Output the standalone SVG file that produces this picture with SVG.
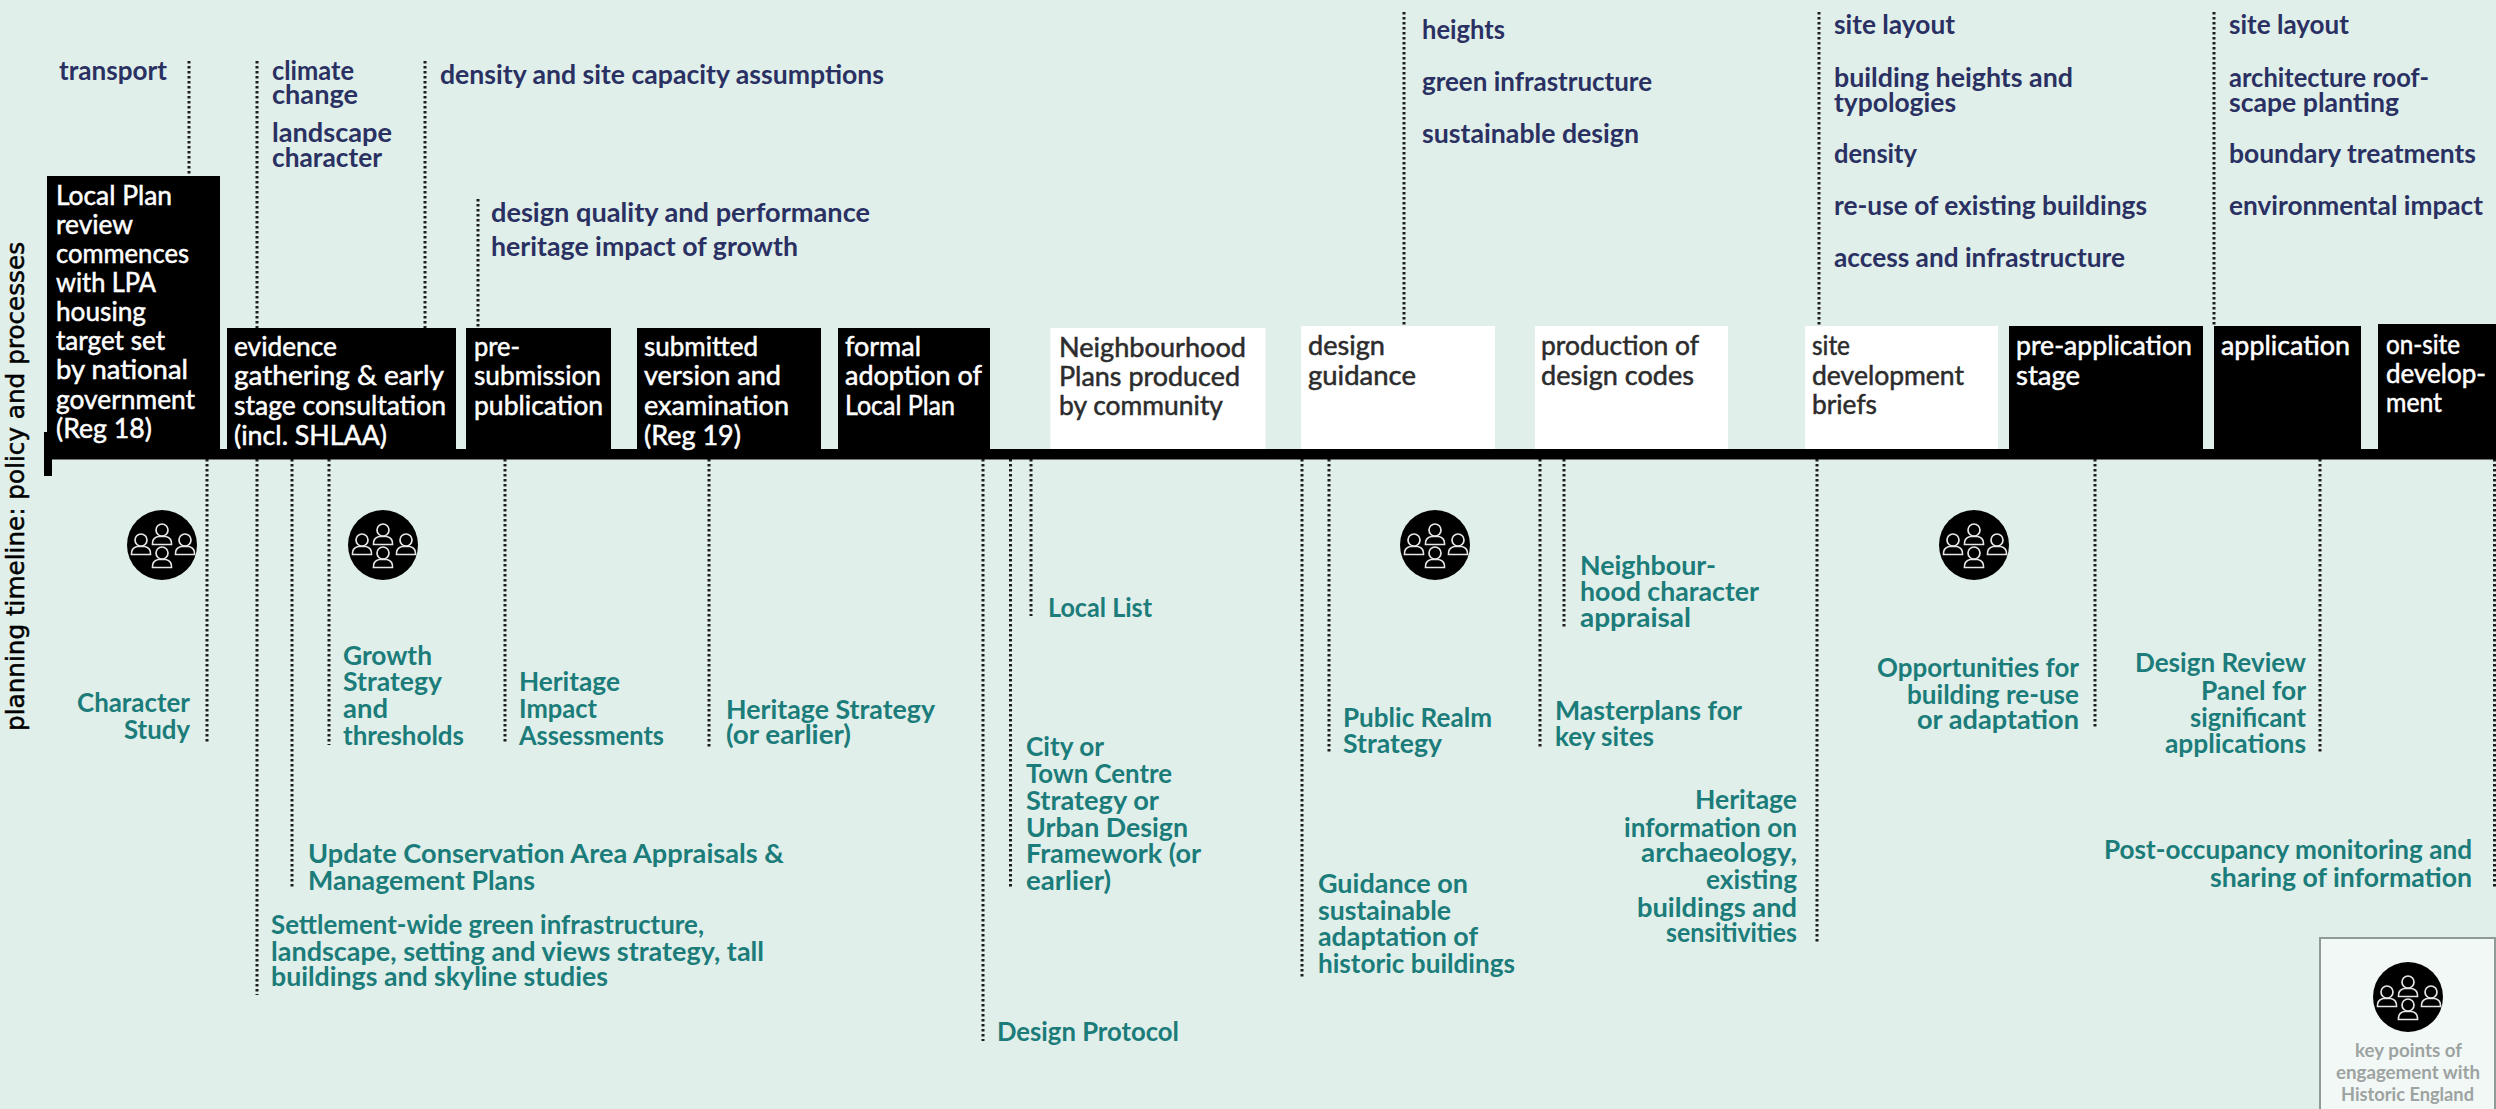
<svg xmlns="http://www.w3.org/2000/svg" width="2496" height="1109" viewBox="0 0 2496 1109">
<style>
text{font-family:"Lato","Liberation Sans",sans-serif;font-size:26px;font-weight:700;white-space:pre}
.n,.t,.w,.d{transform:translateY(1.5px)}
.n{fill:#2a3162}
.t{fill:#1b7c7a}
.w{fill:#fff;font-weight:400;stroke:#fff;stroke-width:.5}
.d{fill:#2c2c2c;font-weight:400;stroke:#2c2c2c;stroke-width:.5}
.g{fill:#9da3a1;font-size:19px}
.k{fill:#000}
.wb{fill:#fff}
.dots{stroke:#1c1c1c;stroke-width:3;stroke-dasharray:2.500 2.500;fill:none}
.p{fill:none;stroke:#e6e6e6;stroke-width:1.700}
</style>
<defs>
<g id="person"><circle class="p" cx="0" cy="0" r="6"/><path class="p" d="M-9.500 14.500Q-10 8-4 6.500L4 6.500Q10 8 9.500 14.500Z"/></g>
<g id="engage"><circle r="35" fill="#000"/><use href="#person" x="0" y="-15"/><use href="#person" x="-21" y="-5"/><use href="#person" x="23" y="-5"/><use href="#person" x="0" y="8"/></g>
</defs>
<rect width="2496" height="1109" fill="#e0efea"/>
<g id="connectors">
<path class="dots" d="M189 61V176M257 61V328M425 61V328M478 199V328M1404 12V326M1819 12V326M2214 12V326"/>
<path class="dots" d="M207 459V743M257 459V995M292 459V888M329 459V745M505 459V744M709 459V747M983 459V1041M1010.500 459V888M1031 459V616M1302 459V977M1329 459V752M1540 459V747M1564 459V628M1817 459V942M2095 459V728M2320 459V753M2494.500 459V888"/>
</g>
<g id="timeline"><rect class="k" x="47" y="449" width="2449" height="10.500"/><rect class="k" x="44" y="432" width="8" height="44"/>
<text transform="translate(24 731) rotate(-90)" textLength="489" lengthAdjust="spacingAndGlyphs" style="font-family:'DejaVu Sans',sans-serif;font-size:25px;font-weight:400;stroke:#000;stroke-width:.5;fill:#000">planning timeline: policy and processes</text></g>
<g id="local-plan-review"><rect class="k" x="47" y="176" width="173" height="275"/>
<text class="w" x="56" y="203" textLength="116" lengthAdjust="spacingAndGlyphs">Local Plan</text>
<text class="w" x="56" y="232" textLength="77" lengthAdjust="spacingAndGlyphs">review</text>
<text class="w" x="56" y="261" textLength="133" lengthAdjust="spacingAndGlyphs">commences</text>
<text class="w" x="56" y="290" textLength="100" lengthAdjust="spacingAndGlyphs">with LPA</text>
<text class="w" x="56" y="319" textLength="90" lengthAdjust="spacingAndGlyphs">housing</text>
<text class="w" x="56" y="348" textLength="109" lengthAdjust="spacingAndGlyphs">target set</text>
<text class="w" x="56" y="377" textLength="132" lengthAdjust="spacingAndGlyphs">by national</text>
<text class="w" x="56" y="407" textLength="139" lengthAdjust="spacingAndGlyphs">government</text>
<text class="w" x="56" y="436" textLength="96" lengthAdjust="spacingAndGlyphs">(Reg 18)</text></g>
<g id="evidence"><rect class="k" x="227" y="328" width="229" height="123"/>
<text class="w" x="234" y="354" textLength="103" lengthAdjust="spacingAndGlyphs">evidence</text>
<text class="w" x="234" y="383" textLength="210" lengthAdjust="spacingAndGlyphs">gathering &amp; early</text>
<text class="w" x="234" y="413" textLength="212" lengthAdjust="spacingAndGlyphs">stage consultation</text>
<text class="w" x="234" y="443" textLength="153" lengthAdjust="spacingAndGlyphs">(incl. SHLAA)</text></g>
<g id="pre-submission"><rect class="k" x="466" y="328" width="145" height="123"/>
<text class="w" x="474" y="354" textLength="46" lengthAdjust="spacingAndGlyphs">pre-</text>
<text class="w" x="474" y="383" textLength="127" lengthAdjust="spacingAndGlyphs">submission</text>
<text class="w" x="474" y="413" textLength="129" lengthAdjust="spacingAndGlyphs">publication</text></g>
<g id="submitted"><rect class="k" x="637" y="328" width="184" height="123"/>
<text class="w" x="644" y="354" textLength="114" lengthAdjust="spacingAndGlyphs">submitted</text>
<text class="w" x="644" y="383" textLength="137" lengthAdjust="spacingAndGlyphs">version and</text>
<text class="w" x="644" y="413" textLength="145" lengthAdjust="spacingAndGlyphs">examination</text>
<text class="w" x="644" y="443" textLength="97" lengthAdjust="spacingAndGlyphs">(Reg 19)</text></g>
<g id="formal-adoption"><rect class="k" x="838" y="328" width="152" height="123"/>
<text class="w" x="845" y="354" textLength="76" lengthAdjust="spacingAndGlyphs">formal</text>
<text class="w" x="845" y="383" textLength="137" lengthAdjust="spacingAndGlyphs">adoption of</text>
<text class="w" x="845" y="413" textLength="110" lengthAdjust="spacingAndGlyphs">Local Plan</text></g>
<g id="neighbourhood-plans"><rect class="wb" x="1050.500" y="328" width="215" height="121"/>
<text class="d" x="1059" y="355" textLength="187" lengthAdjust="spacingAndGlyphs">Neighbourhood</text>
<text class="d" x="1059" y="384" textLength="181" lengthAdjust="spacingAndGlyphs">Plans produced</text>
<text class="d" x="1059" y="413" textLength="164" lengthAdjust="spacingAndGlyphs">by community</text></g>
<g id="design-guidance"><rect class="wb" x="1301" y="326" width="194" height="123"/>
<text class="d" x="1308" y="353" textLength="77" lengthAdjust="spacingAndGlyphs">design</text>
<text class="d" x="1308" y="383" textLength="108" lengthAdjust="spacingAndGlyphs">guidance</text></g>
<g id="design-codes"><rect class="wb" x="1535" y="326" width="193" height="123"/>
<text class="d" x="1541" y="353" textLength="158" lengthAdjust="spacingAndGlyphs">production of</text>
<text class="d" x="1541" y="383" textLength="153" lengthAdjust="spacingAndGlyphs">design codes</text></g>
<g id="site-briefs"><rect class="wb" x="1805" y="326" width="193" height="123"/>
<text class="d" x="1812" y="353" textLength="38" lengthAdjust="spacingAndGlyphs">site</text>
<text class="d" x="1812" y="383" textLength="152" lengthAdjust="spacingAndGlyphs">development</text>
<text class="d" x="1812" y="412" textLength="65" lengthAdjust="spacingAndGlyphs">briefs</text></g>
<g id="pre-application"><rect class="k" x="2009" y="326" width="194" height="125"/>
<text class="w" x="2016" y="353" textLength="176" lengthAdjust="spacingAndGlyphs">pre-application</text>
<text class="w" x="2016" y="383" textLength="64" lengthAdjust="spacingAndGlyphs">stage</text></g>
<g id="application"><rect class="k" x="2214" y="326" width="147" height="125"/>
<text class="w" x="2221" y="353" textLength="129" lengthAdjust="spacingAndGlyphs">application</text></g>
<g id="on-site"><rect class="k" x="2378" y="324" width="118" height="127"/>
<text class="w" x="2386" y="352" textLength="74" lengthAdjust="spacingAndGlyphs">on-site</text>
<text class="w" x="2386" y="381" textLength="100" lengthAdjust="spacingAndGlyphs">develop-</text>
<text class="w" x="2386" y="410" textLength="56" lengthAdjust="spacingAndGlyphs">ment</text></g>
<g id="engage-1"><use href="#engage" x="162" y="545"/></g>
<g id="engage-2"><use href="#engage" x="383" y="545"/></g>
<g id="engage-3"><use href="#engage" x="1435" y="545"/></g>
<g id="engage-4"><use href="#engage" x="1974" y="545"/></g>
<g id="considerations">
<text class="n" x="59" y="78" textLength="108" lengthAdjust="spacingAndGlyphs">transport</text>
<text class="n" x="272" y="78" textLength="82" lengthAdjust="spacingAndGlyphs">climate</text>
<text class="n" x="272" y="102" textLength="86" lengthAdjust="spacingAndGlyphs">change</text>
<text class="n" x="272" y="140" textLength="120" lengthAdjust="spacingAndGlyphs">landscape</text>
<text class="n" x="272" y="165" textLength="110" lengthAdjust="spacingAndGlyphs">character</text>
<text class="n" x="440" y="82" textLength="444" lengthAdjust="spacingAndGlyphs">density and site capacity assumptions</text>
<text class="n" x="491" y="220" textLength="379" lengthAdjust="spacingAndGlyphs">design quality and performance</text>
<text class="n" x="491" y="254" textLength="307" lengthAdjust="spacingAndGlyphs">heritage impact of growth</text>
<text class="n" x="1422" y="37" textLength="83" lengthAdjust="spacingAndGlyphs">heights</text>
<text class="n" x="1422" y="89" textLength="230" lengthAdjust="spacingAndGlyphs">green infrastructure</text>
<text class="n" x="1422" y="141" textLength="217" lengthAdjust="spacingAndGlyphs">sustainable design</text>
<text class="n" x="1834" y="32" textLength="121" lengthAdjust="spacingAndGlyphs">site layout</text>
<text class="n" x="1834" y="85" textLength="239" lengthAdjust="spacingAndGlyphs">building heights and</text>
<text class="n" x="1834" y="110" textLength="122" lengthAdjust="spacingAndGlyphs">typologies</text>
<text class="n" x="1834" y="161" textLength="83" lengthAdjust="spacingAndGlyphs">density</text>
<text class="n" x="1834" y="213" textLength="313" lengthAdjust="spacingAndGlyphs">re-use of existing buildings</text>
<text class="n" x="1834" y="265" textLength="291" lengthAdjust="spacingAndGlyphs">access and infrastructure</text>
<text class="n" x="2229" y="32" textLength="120" lengthAdjust="spacingAndGlyphs">site layout</text>
<text class="n" x="2229" y="85" textLength="200" lengthAdjust="spacingAndGlyphs">architecture roof-</text>
<text class="n" x="2229" y="110" textLength="170" lengthAdjust="spacingAndGlyphs">scape planting</text>
<text class="n" x="2229" y="161" textLength="247" lengthAdjust="spacingAndGlyphs">boundary treatments</text>
<text class="n" x="2229" y="213" textLength="254" lengthAdjust="spacingAndGlyphs">environmental impact</text>
</g>
<g id="documents">
<text class="t" x="77" y="710" textLength="113" lengthAdjust="spacingAndGlyphs">Character</text>
<text class="t" x="124" y="737" textLength="66" lengthAdjust="spacingAndGlyphs">Study</text>
<text class="t" x="343" y="663" textLength="89" lengthAdjust="spacingAndGlyphs">Growth</text>
<text class="t" x="343" y="689" textLength="99" lengthAdjust="spacingAndGlyphs">Strategy</text>
<text class="t" x="343" y="716" textLength="45" lengthAdjust="spacingAndGlyphs">and</text>
<text class="t" x="343" y="743" textLength="121" lengthAdjust="spacingAndGlyphs">thresholds</text>
<text class="t" x="519" y="689" textLength="101" lengthAdjust="spacingAndGlyphs">Heritage</text>
<text class="t" x="519" y="716" textLength="78" lengthAdjust="spacingAndGlyphs">Impact</text>
<text class="t" x="519" y="743" textLength="145" lengthAdjust="spacingAndGlyphs">Assessments</text>
<text class="t" x="726" y="717" textLength="209" lengthAdjust="spacingAndGlyphs">Heritage Strategy</text>
<text class="t" x="726" y="742" textLength="125" lengthAdjust="spacingAndGlyphs">(or earlier)</text>
<text class="t" x="308" y="861" textLength="476" lengthAdjust="spacingAndGlyphs">Update Conservation Area Appraisals &amp;</text>
<text class="t" x="308" y="888" textLength="227" lengthAdjust="spacingAndGlyphs">Management Plans</text>
<text class="t" x="271" y="932" textLength="433" lengthAdjust="spacingAndGlyphs">Settlement-wide green infrastructure,</text>
<text class="t" x="271" y="959" textLength="493" lengthAdjust="spacingAndGlyphs">landscape, setting and views strategy, tall</text>
<text class="t" x="271" y="984" textLength="337" lengthAdjust="spacingAndGlyphs">buildings and skyline studies</text>
<text class="t" x="997" y="1039" textLength="182" lengthAdjust="spacingAndGlyphs">Design Protocol</text>
<text class="t" x="1048" y="615" textLength="104" lengthAdjust="spacingAndGlyphs">Local List</text>
<text class="t" x="1026" y="754" textLength="78" lengthAdjust="spacingAndGlyphs">City or</text>
<text class="t" x="1026" y="781" textLength="146" lengthAdjust="spacingAndGlyphs">Town Centre</text>
<text class="t" x="1026" y="808" textLength="133" lengthAdjust="spacingAndGlyphs">Strategy or</text>
<text class="t" x="1026" y="835" textLength="162" lengthAdjust="spacingAndGlyphs">Urban Design</text>
<text class="t" x="1026" y="861" textLength="175" lengthAdjust="spacingAndGlyphs">Framework (or</text>
<text class="t" x="1026" y="888" textLength="85" lengthAdjust="spacingAndGlyphs">earlier)</text>
<text class="t" x="1343" y="725" textLength="149" lengthAdjust="spacingAndGlyphs">Public Realm</text>
<text class="t" x="1343" y="751" textLength="99" lengthAdjust="spacingAndGlyphs">Strategy</text>
<text class="t" x="1318" y="891" textLength="150" lengthAdjust="spacingAndGlyphs">Guidance on</text>
<text class="t" x="1318" y="918" textLength="133" lengthAdjust="spacingAndGlyphs">sustainable</text>
<text class="t" x="1318" y="944" textLength="160" lengthAdjust="spacingAndGlyphs">adaptation of</text>
<text class="t" x="1318" y="971" textLength="197" lengthAdjust="spacingAndGlyphs">historic buildings</text>
<text class="t" x="1580" y="573" textLength="136" lengthAdjust="spacingAndGlyphs">Neighbour-</text>
<text class="t" x="1580" y="599" textLength="179" lengthAdjust="spacingAndGlyphs">hood character</text>
<text class="t" x="1580" y="625" textLength="111" lengthAdjust="spacingAndGlyphs">appraisal</text>
<text class="t" x="1555" y="718" textLength="187" lengthAdjust="spacingAndGlyphs">Masterplans for</text>
<text class="t" x="1555" y="744" textLength="99" lengthAdjust="spacingAndGlyphs">key sites</text>
<text class="t" x="1695" y="807" textLength="102" lengthAdjust="spacingAndGlyphs">Heritage</text>
<text class="t" x="1624" y="835" textLength="173" lengthAdjust="spacingAndGlyphs">information on</text>
<text class="t" x="1641" y="860" textLength="156" lengthAdjust="spacingAndGlyphs">archaeology,</text>
<text class="t" x="1706" y="887" textLength="91" lengthAdjust="spacingAndGlyphs">existing</text>
<text class="t" x="1637" y="915" textLength="160" lengthAdjust="spacingAndGlyphs">buildings and</text>
<text class="t" x="1666" y="940" textLength="131" lengthAdjust="spacingAndGlyphs">sensitivities</text>
<text class="t" x="1877" y="675" textLength="202" lengthAdjust="spacingAndGlyphs">Opportunities for</text>
<text class="t" x="1907" y="702" textLength="172" lengthAdjust="spacingAndGlyphs">building re-use</text>
<text class="t" x="1917" y="727" textLength="162" lengthAdjust="spacingAndGlyphs">or adaptation</text>
<text class="t" x="2135" y="670" textLength="171" lengthAdjust="spacingAndGlyphs">Design Review</text>
<text class="t" x="2201" y="698" textLength="105" lengthAdjust="spacingAndGlyphs">Panel for</text>
<text class="t" x="2190" y="725" textLength="116" lengthAdjust="spacingAndGlyphs">significant</text>
<text class="t" x="2165" y="751" textLength="141" lengthAdjust="spacingAndGlyphs">applications</text>
<text class="t" x="2104" y="857" textLength="368" lengthAdjust="spacingAndGlyphs">Post-occupancy monitoring and</text>
<text class="t" x="2210" y="885" textLength="262" lengthAdjust="spacingAndGlyphs">sharing of information</text>
</g>
<g id="legend"><rect x="2320" y="938" width="175" height="172" fill="#f2f8f6" stroke="#8f9b98" stroke-width="2"/>
<use href="#engage" x="2408" y="997"/>
<text class="g" x="2355" y="1057" textLength="107" lengthAdjust="spacingAndGlyphs">key points of</text>
<text class="g" x="2336" y="1079" textLength="144" lengthAdjust="spacingAndGlyphs">engagement with</text>
<text class="g" x="2341" y="1101" textLength="133" lengthAdjust="spacingAndGlyphs">Historic England</text></g>
</svg>
